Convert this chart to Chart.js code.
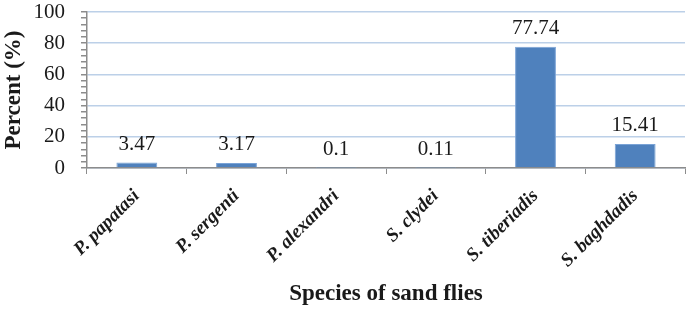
<!DOCTYPE html>
<html>
<head>
<meta charset="utf-8">
<script src="https://cdn.jsdelivr.net/npm/chart.js@4.4.0/dist/chart.umd.min.js"></script>
<style>
  html, body { margin: 0; padding: 0; background: #fff; }
  #wrap { width: 687px; height: 309px; }
</style>
</head>
<body>
<div id="wrap"><canvas id="chart"></canvas></div>
<script>
// species and their share of the catch (%)
const species = ['P. papatasi', 'P. sergenti', 'P. alexandri', 'S. clydei', 'S. tiberiadis', 'S. baghdadis'];
const percents = [3.47, 3.17, 0.1, 0.11, 77.74, 15.41];
const valueLabels = ['3.47', '3.17', '0.1', '0.11', '77.74', '15.41'];

const serif = 'Liberation Serif';
const axisGray = '#8c8c8c';
const gridBlue = '#bcd0e8';

// writes the value above each bar, like Excel's "outside end" labels
const barLabels = {
  id: 'barLabels',
  afterDatasetsDraw(chart) {
    const ctx = chart.ctx;
    const meta = chart.getDatasetMeta(0);
    ctx.save();
    ctx.font = '21px "' + serif + '"';
    ctx.fillStyle = '#1a1a1a';
    ctx.textAlign = 'center';
    ctx.textBaseline = 'alphabetic';
    meta.data.forEach((bar, i) => {
      ctx.fillText(valueLabels[i], bar.x, bar.y - 13);
    });
    ctx.restore();
  }
};

const ctx = document.getElementById('chart').getContext('2d');
new Chart(ctx, {
  type: 'bar',
  data: {
    labels: species,
    datasets: [{
      data: percents,
      backgroundColor: '#4f81bd',
      borderColor: '#7aa3d6',
      borderWidth: 1,
      barPercentage: 0.41,
      categoryPercentage: 1
    }]
  },
  options: {
    responsive: true,
    maintainAspectRatio: false,
    animation: false,
    layout: { padding: { top: 12, right: 2, left: 0, bottom: 0 } },
    plugins: {
      legend: { display: false },
      tooltip: { enabled: false }
    },
    scales: {
      x: {
        grid: {
          drawOnChartArea: false,
          drawTicks: true,
          tickLength: 6,
          tickColor: axisGray,
          offset: true
        },
        border: { color: axisGray, width: 1.5 },
        ticks: {
          color: '#1a1a1a',
          font: { family: serif, size: 19, style: 'italic', weight: 'bold' },
          maxRotation: 45,
          minRotation: 45,
          padding: 11
        },
        title: {
          display: true,
          text: 'Species of sand flies',
          color: '#1a1a1a',
          font: { family: serif, size: 23, weight: 'bold' },
          padding: { top: 0, bottom: 1 }
        },
        afterFit(scale) { scale.height = 141; }
      },
      y: {
        min: 0,
        max: 100,
        grid: {
          color: c => (c.tick && c.tick.value % 20 === 0) ? gridBlue : 'rgba(0,0,0,0)',
          lineWidth: 1.5,
          tickColor: axisGray,
          tickLength: 6
        },
        border: { color: axisGray, width: 1.5 },
        ticks: {
          stepSize: 4,
          autoSkip: false,
          color: '#1a1a1a',
          font: { family: serif, size: 21 },
          padding: 16,
          callback: v => (v % 20 === 0 ? v : '')
        },
        title: {
          display: true,
          text: 'Percent (%)',
          color: '#1a1a1a',
          font: { family: serif, size: 23, weight: 'bold' },
          padding: { top: 0, bottom: 0 }
        },
        afterFit(scale) {
          scale.width = 87;
          scale.paddingTop = 0;
          scale.paddingBottom = 0;
        }
      }
    }
  },
  plugins: [barLabels]
});
</script>
</body>
</html>
